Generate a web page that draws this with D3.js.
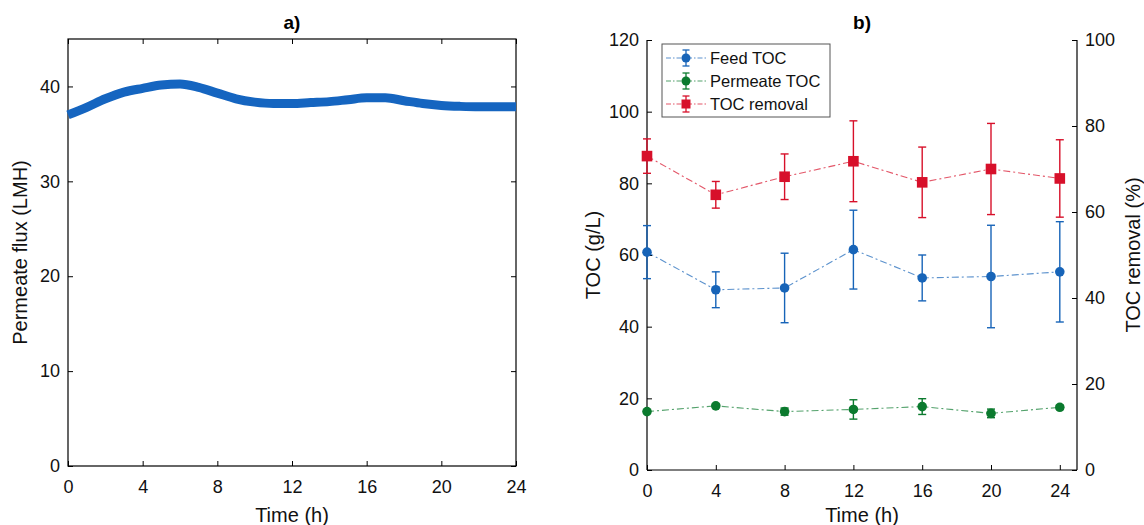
<!DOCTYPE html>
<html>
<head>
<meta charset="utf-8">
<script src="https://cdn.jsdelivr.net/npm/d3@7"></script>
<style>
  html, body { margin: 0; padding: 0; background: #fff; }
  svg { display: block; font-family: "Liberation Sans", Arial, Helvetica, sans-serif; }
</style>
</head>
<body>
<svg id="chart" width="1144" height="525"></svg>
<script>
// ---- Data ----
const fluxTime = [0,1,2,3,4,5,6,7,8,9,10,11,12,13,14,15,16,17,18,19,20,21,22,23,24];
const fluxValue = [37.0,37.8,38.7,39.4,39.8,40.15,40.25,39.9,39.3,38.7,38.35,38.2,38.2,38.3,38.4,38.6,38.8,38.8,38.5,38.2,38.0,37.9,37.85,37.85,37.85];

const sampleTime = [0,4,8,12,16,20,24];
const feedTOC = [60.8,50.3,50.8,61.5,53.6,54.0,55.3];
const feedErr = [7.4,5.0,9.7,11.0,6.4,14.3,14.0];
const permTOC = [16.3,17.9,16.3,16.9,17.7,15.8,17.5];
const permErr = [0.5,0.5,1.0,2.7,2.2,1.2,0.6];
const tocRemoval = [73.0,64.0,68.2,71.8,66.9,70.0,67.8];
const removalErr = [4.0,3.1,5.3,9.4,8.2,10.6,9.0];

const xTicks = [0,4,8,12,16,20,24];
const fluxTicks = [0,10,20,30,40];
const tocTicks = [0,20,40,60,80,100,120];
const removalTicks = [0,20,40,60,80,100];

const seriesNames = ["Feed TOC","Permeate TOC","TOC removal"];
const colors = { blue: "#1764b8", green: "#0b7a2e", red: "#d7102a" };

const svg = d3.select("#chart");
const tickFont = 18, labelFont = 20, tickLen = 5;

// ---- Panel a ----
const A = { left: 68, right: 516, top: 39, bottom: 466 };
const xa = d3.scaleLinear().domain([0,24]).range([A.left, A.right]);
const ya = d3.scaleLinear().domain([0,45]).range([A.bottom, A.top]);

const ga = svg.append("g");
ga.append("rect").attr("x", A.left).attr("y", A.top)
  .attr("width", A.right - A.left).attr("height", A.bottom - A.top)
  .attr("fill", "none").attr("stroke", "#000").attr("stroke-width", 1.2);

function styleAxis(g) {
  g.select(".domain").remove();
  g.selectAll(".tick line").attr("stroke", "#000").attr("stroke-width", 1);
  g.selectAll(".tick text").attr("fill", "#111").style("font-size", tickFont + "px")
    .style("font-family", "'Liberation Sans', Arial, sans-serif");
}

ga.append("g").attr("transform", `translate(0,${A.bottom})`)
  .call(d3.axisBottom(xa).tickValues(xTicks).tickSize(-tickLen).tickPadding(14))
  .call(styleAxis);
ga.append("g").attr("transform", `translate(0,${A.top})`)
  .call(d3.axisTop(xa).tickValues(xTicks).tickSize(-tickLen).tickFormat(""))
  .call(styleAxis);
ga.append("g").attr("transform", `translate(${A.left},0)`)
  .call(d3.axisLeft(ya).tickValues(fluxTicks).tickSize(-tickLen).tickPadding(8))
  .call(styleAxis);
ga.append("g").attr("transform", `translate(${A.right},0)`)
  .call(d3.axisRight(ya).tickValues(fluxTicks).tickSize(-tickLen).tickFormat(""))
  .call(styleAxis);

const fluxData = fluxTime.map((t,i) => ({t, v: fluxValue[i]}));
ga.append("path").datum(fluxData)
  .attr("fill", "none").attr("stroke", "#1565c0").attr("stroke-width", 9)
  .attr("d", d3.line().x(d => xa(d.t)).y(d => ya(d.v)).curve(d3.curveMonotoneX));

ga.append("text").attr("x", (A.left + A.right)/2).attr("y", 29)
  .attr("text-anchor", "middle").style("font-size", "19px").style("font-weight", "bold").text("a)");
ga.append("text").attr("x", (A.left + A.right)/2).attr("y", 522)
  .attr("text-anchor", "middle").style("font-size", labelFont + "px").attr("fill", "#111").text("Time (h)");
ga.append("text").attr("transform", `translate(27,${(A.top + A.bottom)/2}) rotate(-90)`)
  .attr("text-anchor", "middle").style("font-size", labelFont + "px").attr("fill", "#111").text("Permeate flux (LMH)");

// ---- Panel b ----
const B = { left: 647, right: 1077, top: 40, bottom: 470 };
const xb = d3.scaleLinear().domain([0,25]).range([B.left, B.right]);
const yb = d3.scaleLinear().domain([0,120]).range([B.bottom, B.top]);
const yr = d3.scaleLinear().domain([0,100]).range([B.bottom, B.top]);

const gb = svg.append("g");
gb.append("g").attr("transform", `translate(0,${B.bottom})`)
  .call(d3.axisBottom(xb).tickValues(xTicks).tickSize(-tickLen).tickPadding(14))
  .call(styleAxis);
gb.append("g").attr("transform", `translate(${B.left},0)`)
  .call(d3.axisLeft(yb).tickValues(tocTicks).tickSize(-tickLen).tickPadding(8))
  .call(styleAxis);
gb.append("g").attr("transform", `translate(${B.right},0)`)
  .call(d3.axisRight(yr).tickValues(removalTicks).tickSize(-tickLen).tickPadding(8))
  .call(styleAxis);
// axis lines
gb.append("line").attr("x1", B.left).attr("x2", B.right).attr("y1", B.bottom).attr("y2", B.bottom).attr("stroke", "#000").attr("stroke-width", 1.2);
gb.append("line").attr("x1", B.left).attr("x2", B.left).attr("y1", B.top).attr("y2", B.bottom).attr("stroke", "#000").attr("stroke-width", 1.2);
gb.append("line").attr("x1", B.right).attr("x2", B.right).attr("y1", B.top).attr("y2", B.bottom).attr("stroke", "#000").attr("stroke-width", 1.2);

const dashDot = "7,3,2,3";
function drawSeries(vals, errs, yScale, color, shape) {
  const data = sampleTime.map((t,i) => ({t, v: vals[i], e: errs[i]}));
  const g = gb.append("g");
  g.append("path").datum(data).attr("fill", "none").attr("stroke", color)
    .attr("stroke-width", 1.1).attr("stroke-opacity", 0.7).attr("stroke-dasharray", dashDot)
    .attr("d", d3.line().x(d => xb(d.t)).y(d => yScale(d.v)));
  const eb = g.selectAll(".eb").data(data).enter().append("g").attr("stroke", color).attr("stroke-width", 1.4);
  eb.append("line").attr("x1", d => xb(d.t)).attr("x2", d => xb(d.t))
    .attr("y1", d => yScale(d.v - d.e)).attr("y2", d => yScale(d.v + d.e));
  eb.append("line").attr("x1", d => xb(d.t) - 4).attr("x2", d => xb(d.t) + 4)
    .attr("y1", d => yScale(d.v - d.e)).attr("y2", d => yScale(d.v - d.e));
  eb.append("line").attr("x1", d => xb(d.t) - 4).attr("x2", d => xb(d.t) + 4)
    .attr("y1", d => yScale(d.v + d.e)).attr("y2", d => yScale(d.v + d.e));
  if (shape === "circle") {
    g.selectAll(".m").data(data).enter().append("circle")
      .attr("cx", d => xb(d.t)).attr("cy", d => yScale(d.v)).attr("r", 4.8).attr("fill", color);
  } else {
    g.selectAll(".m").data(data).enter().append("rect")
      .attr("x", d => xb(d.t) - 5.3).attr("y", d => yScale(d.v) - 5.3)
      .attr("width", 10.6).attr("height", 10.6).attr("fill", color);
  }
}
drawSeries(feedTOC, feedErr, yb, colors.blue, "circle");
drawSeries(permTOC, permErr, yb, colors.green, "circle");
drawSeries(tocRemoval, removalErr, yr, colors.red, "square");

// Legend
const legend = gb.append("g");
legend.append("rect").attr("x", 662).attr("y", 44).attr("width", 168).attr("height", 73)
  .attr("fill", "#fff").attr("stroke", "#555").attr("stroke-width", 1);
const legendItems = [
  { name: seriesNames[0], color: colors.blue, shape: "circle" },
  { name: seriesNames[1], color: colors.green, shape: "circle" },
  { name: seriesNames[2], color: colors.red, shape: "square" }
];
legendItems.forEach((it, i) => {
  const y = 58 + i * 23;
  const lg = legend.append("g");
  lg.append("line").attr("x1", 666).attr("x2", 707).attr("y1", y).attr("y2", y)
    .attr("stroke", it.color).attr("stroke-width", 1.1).attr("stroke-opacity", 0.7).attr("stroke-dasharray", "5,2,1.5,2");
  lg.append("line").attr("x1", 686).attr("x2", 686).attr("y1", y - 8).attr("y2", y + 8).attr("stroke", it.color).attr("stroke-width", 1.3);
  lg.append("line").attr("x1", 682.5).attr("x2", 689.5).attr("y1", y - 8).attr("y2", y - 8).attr("stroke", it.color).attr("stroke-width", 1.3);
  lg.append("line").attr("x1", 682.5).attr("x2", 689.5).attr("y1", y + 8).attr("y2", y + 8).attr("stroke", it.color).attr("stroke-width", 1.3);
  if (it.shape === "circle") {
    lg.append("circle").attr("cx", 686).attr("cy", y).attr("r", 4.5).attr("fill", it.color);
  } else {
    lg.append("rect").attr("x", 681.5).attr("y", y - 4.5).attr("width", 9).attr("height", 9).attr("fill", it.color);
  }
  lg.append("text").attr("x", 710).attr("y", y).attr("dy", "0.35em")
    .style("font-size", "16.5px").attr("fill", "#111").text(it.name);
});

gb.append("text").attr("x", (B.left + B.right)/2).attr("y", 29)
  .attr("text-anchor", "middle").style("font-size", "19px").style("font-weight", "bold").text("b)");
gb.append("text").attr("x", (B.left + B.right)/2).attr("y", 522)
  .attr("text-anchor", "middle").style("font-size", labelFont + "px").attr("fill", "#111").text("Time (h)");
gb.append("text").attr("transform", `translate(600,${(B.top + B.bottom)/2}) rotate(-90)`)
  .attr("text-anchor", "middle").style("font-size", labelFont + "px").attr("fill", "#111").text("TOC (g/L)");
gb.append("text").attr("transform", `translate(1140,${(B.top + B.bottom)/2}) rotate(-90)`)
  .attr("text-anchor", "middle").style("font-size", labelFont + "px").attr("fill", "#111").text("TOC removal (%)");
</script>
</body>
</html>
